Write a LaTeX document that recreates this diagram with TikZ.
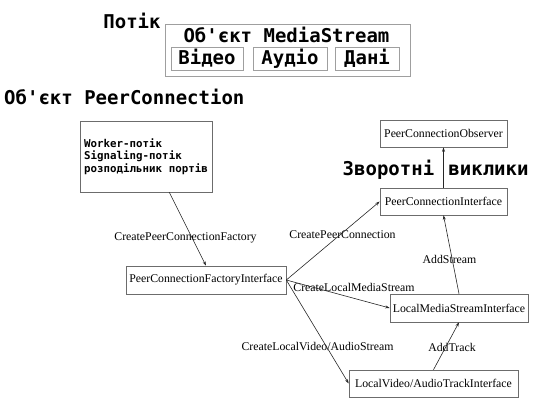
\documentclass[tikz,border=0pt]{standalone}
\usepackage{fontspec}
\setmainfont{Liberation Serif}
\newfontfamily\monofont{DejaVu Sans Mono}
\usetikzlibrary{positioning,calc,arrows.meta}

\begin{document}
\begin{tikzpicture}[x=1pt,y=-1pt,
    head/.style={font=\monofont\bfseries\fontsize{19}{21}\selectfont,inner sep=0pt},
    grbox/.style={draw=gray!75,line width=0.8pt,inner sep=0pt},
    iface/.style={draw=gray!85!black,line width=0.6pt,inner sep=0pt,minimum height=27pt,font=\fontsize{11.8}{13}\selectfont},
    lbl/.style={inner sep=0pt,font=\fontsize{11.8}{13}\selectfont},
    >={Stealth[length=4.5pt,width=3pt]}]
    \useasboundingbox (0,0) rectangle (533,398);
    \draw
        node[head] (potik) at (132,21) {Потік}
        node[grbox,minimum width=245pt,minimum height=52pt] (msbox) at (287.5,50) {}
        node[head] (mstitle) at (286.5,35) {Об'єкт MediaStream}
        node[grbox,head,minimum width=72pt,minimum height=23pt] (video) at (207,58.5) {Відео}
        node[grbox,head,minimum width=74pt,minimum height=23pt] (audio) at (290,58.5) {Аудіо}
        node[grbox,head,minimum width=64pt,minimum height=23pt] (data) at (367,58.5) {Дані}

        node[head,anchor=west] (pctitle) at (4,97) {Об'єкт PeerConnection}

        node[iface,align=left,minimum width=132pt,minimum height=71pt,font=\monofont\bfseries\fontsize{10.8}{12.5}\selectfont] (worker) at (146,156.5)
            {Worker-потік\\Signaling-потік\\розподільник портів}

        node[iface,minimum width=160pt,minimum height=28pt] (pcfi) at (206,280) {PeerConnectionFactoryInterface}
        node[iface,minimum width=127pt] (pco) at (443.5,133.5) {PeerConnectionObserver}
        node[iface,minimum width=127pt] (pci) at (443.5,201.5) {PeerConnectionInterface}
        node[iface,minimum width=138pt,minimum height=28pt] (lmsi) at (459,308) {LocalMediaStreamInterface}
        node[iface,minimum width=169pt] (lvati) at (433.5,383.5) {LocalVideo/AudioTrackInterface}

        node[head] (zvorotni) at (388.5,170) {Зворотні}
        node[head] (vyklyky) at (488.5,170) {виклики}

        node[lbl] (cpcf) at (185.5,238) {CreatePeerConnectionFactory}
        node[lbl] (cpc) at (342.5,235) {CreatePeerConnection}
        node[lbl] (clms) at (354,287) {CreateLocalMediaStream}
        node[lbl] (clvas) at (317.5,346) {CreateLocalVideo/AudioStream}
        node[lbl] (addstream) at (449.5,259) {AddStream}
        node[lbl] (addtrack) at (452,347) {AddTrack}
    ;

    \draw[->,gray!30!black,line width=0.6pt] (worker.-57) -- (pcfi.north);
    \draw[->,gray!30!black,line width=0.6pt] (pcfi.east) -- (pci.west);
    \draw[->,gray!30!black,line width=0.6pt] (pcfi.east) -- (lmsi.west);
    \draw[->,gray!30!black,line width=0.6pt] (pcfi.east) -- (lvati.west);
    \draw[->,gray!30!black,line width=0.6pt] (pci.north) -- (pco.south);
    \draw[->,gray!30!black,line width=0.6pt] (lmsi.north) -- (pci.south);
    \draw[->,gray!30!black,line width=0.6pt] (lvati.north) -- (lmsi.south);
\end{tikzpicture}
\end{document}
